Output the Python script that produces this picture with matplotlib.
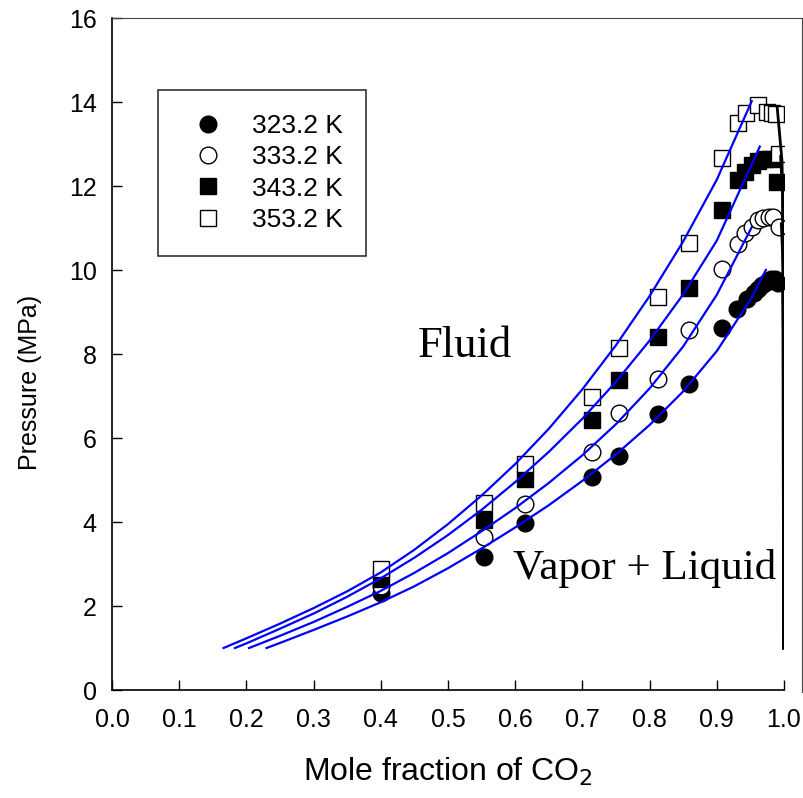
import matplotlib
matplotlib.use("Agg")
import matplotlib.pyplot as plt
from matplotlib.lines import Line2D

plt.rcParams['font.family'] = ['Liberation Sans', 'DejaVu Sans']

temps = ["323.2 K", "333.2 K", "343.2 K", "353.2 K"]

# experimental data (mole fraction CO2, pressure MPa)
x_323 = [0.400, 0.554, 0.615, 0.714, 0.755, 0.813, 0.858, 0.908, 0.930, 0.945, 0.955, 0.962, 0.968, 0.975, 0.981, 0.986, 0.991]
p_323 = [2.30, 3.16, 3.97, 5.08, 5.56, 6.56, 7.28, 8.61, 9.08, 9.30, 9.45, 9.55, 9.65, 9.72, 9.78, 9.78, 9.70]
x_333 = [0.400, 0.554, 0.615, 0.714, 0.755, 0.813, 0.858, 0.908, 0.932, 0.942, 0.952, 0.962, 0.969, 0.977, 0.984, 0.992]
p_333 = [2.48, 3.65, 4.44, 5.67, 6.59, 7.40, 8.57, 10.02, 10.63, 10.87, 11.03, 11.19, 11.23, 11.27, 11.27, 11.03]
x_343 = [0.400, 0.554, 0.615, 0.714, 0.755, 0.813, 0.858, 0.908, 0.932, 0.942, 0.952, 0.962, 0.972, 0.980, 0.989]
p_343 = [2.64, 4.05, 5.02, 6.44, 7.38, 8.40, 9.58, 11.43, 12.14, 12.34, 12.50, 12.60, 12.64, 12.64, 12.10]
x_353 = [0.400, 0.554, 0.615, 0.714, 0.755, 0.813, 0.858, 0.907, 0.932, 0.944, 0.962, 0.974, 0.982, 0.988, 0.993]
p_353 = [2.87, 4.45, 5.38, 6.98, 8.15, 9.36, 10.64, 12.66, 13.49, 13.73, 13.93, 13.77, 13.73, 13.72, 12.76]

# model bubble-point curves (liquid side)
cx_323 = [0.230, 0.25, 0.30, 0.35, 0.40, 0.45, 0.50, 0.55, 0.60, 0.65, 0.70, 0.75, 0.80, 0.85, 0.90, 0.95, 0.973]
cp_323 = [1.00, 1.12, 1.43, 1.75, 2.09, 2.47, 2.90, 3.37, 3.87, 4.40, 4.98, 5.61, 6.31, 7.11, 8.07, 9.29, 10.00]
cx_333 = [0.204, 0.25, 0.30, 0.35, 0.40, 0.45, 0.50, 0.55, 0.60, 0.65, 0.70, 0.75, 0.80, 0.85, 0.90, 0.952]
cp_333 = [1.00, 1.29, 1.62, 1.98, 2.36, 2.79, 3.26, 3.78, 4.33, 4.93, 5.59, 6.33, 7.18, 8.18, 9.41, 11.02]
cx_343 = [0.183, 0.20, 0.25, 0.30, 0.35, 0.40, 0.45, 0.50, 0.55, 0.60, 0.65, 0.70, 0.75, 0.80, 0.85, 0.90, 0.964]
cp_343 = [1.00, 1.11, 1.46, 1.82, 2.22, 2.66, 3.15, 3.69, 4.29, 4.95, 5.67, 6.46, 7.34, 8.32, 9.42, 10.70, 12.94]
cx_353 = [0.166, 0.20, 0.25, 0.30, 0.35, 0.40, 0.45, 0.50, 0.55, 0.60, 0.65, 0.70, 0.75, 0.80, 0.85, 0.90, 0.952]
cp_353 = [1.00, 1.23, 1.58, 1.95, 2.35, 2.80, 3.34, 3.95, 4.63, 5.38, 6.22, 7.16, 8.21, 9.38, 10.68, 12.15, 14.02]

# model dew-point curves (vapour side)
vx_323 = [0.998, 0.9995, 0.9995]
vp_323 = [9.80, 8.00, 1.00]
vx_333 = [0.996, 0.999, 0.9995]
vp_333 = [11.10, 10.00, 1.00]
vx_343 = [0.995, 0.998, 0.9995]
vp_343 = [12.70, 11.80, 1.00]
vx_353 = [0.990, 0.997, 0.999, 0.9995]
vp_353 = [13.85, 12.60, 11.00, 1.00]

fig = plt.figure(figsize=(8.04, 7.98), dpi=100)
ax = fig.add_axes([112/804, 108/798, 672/804, 672/798])

ms_c = 12
ms_s = 11
ax.plot(x_323, p_323, 'o', ms=ms_c, mfc='black', mec='black', mew=1.0, ls='none', label=temps[0], zorder=3)
ax.plot(x_333, p_333, 'o', ms=ms_c, mfc='white', mec='black', mew=1.0, ls='none', label=temps[1], zorder=3)
ax.plot(x_343, p_343, 's', ms=ms_s, mfc='black', mec='black', mew=1.0, ls='none', label=temps[2], zorder=3)
ax.plot(x_353, p_353, 's', ms=ms_s, mfc='white', mec='black', mew=1.0, ls='none', label=temps[3], zorder=3)

for cx, cp in [(cx_323, cp_323), (cx_333, cp_333), (cx_343, cp_343), (cx_353, cp_353)]:
    ax.plot(cx, cp, color='#0000ff', lw=1.6, zorder=4)
for vx, vp in [(vx_323, vp_323), (vx_333, vp_333), (vx_343, vp_343), (vx_353, vp_353)]:
    ax.plot(vx, vp, color='black', lw=2.0, zorder=4)

ax.set_xlim(0, 1.0)
ax.set_ylim(0, 16)
ax.set_xticks([i/10 for i in range(11)])
ax.set_yticks(range(0, 17, 2))
ax.tick_params(direction='in', length=7, width=1.0, labelsize=18)
ax.tick_params(axis='x', pad=13)
ax.tick_params(axis='y', pad=11)
for s in ['top', 'right']:
    ax.spines[s].set_visible(False)
for s in ['left', 'bottom']:
    ax.spines[s].set_linewidth(1.2)

ax.set_xlabel('Mole fraction of CO$_2$', fontsize=23)
ax.xaxis.set_label_coords(0.5, -0.097)
ax.set_ylabel('Pressure (MPa)', fontsize=18)
ax.yaxis.set_label_coords(-0.104, 0.457)

# outer frame of the graph
fig.add_artist(Line2D([112/804, 802/804, 802/804], [780/798, 780/798, 106/798],
                      transform=fig.transFigure, color='#444444', lw=0.8))

ax.text(0.525, 8.2, 'Fluid', family='Liberation Serif', fontsize=32, ha='center', va='center')
ax.text(0.793, 2.9, 'Vapor + Liquid', family='Liberation Serif', fontsize=31, ha='center', va='center')

leg = ax.legend(loc='upper left', bbox_to_anchor=(158/804, 1 - 90/798), bbox_transform=fig.transFigure,
                borderaxespad=0, fontsize=19, numpoints=1, frameon=True, fancybox=False,
                borderpad=0.9, labelspacing=0.28, handlelength=2.0, handletextpad=0.65)
leg.get_frame().set_edgecolor('black')
leg.get_frame().set_linewidth(1.2)

fig.savefig('out.png', dpi=100)
